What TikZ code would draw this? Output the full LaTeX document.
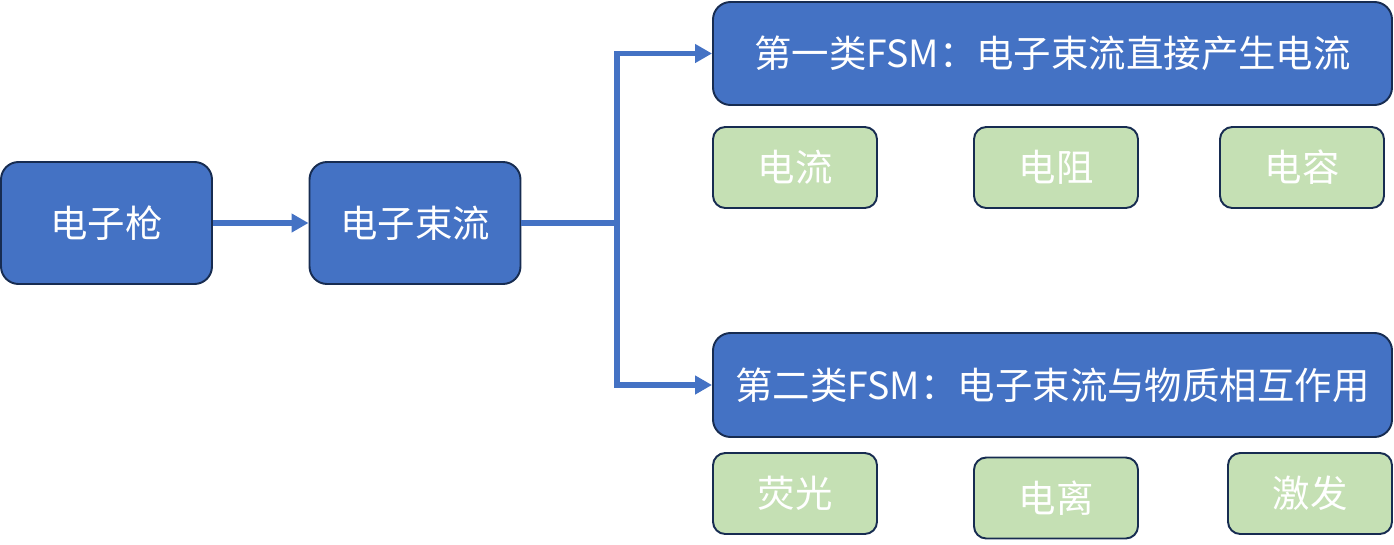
\documentclass[tikz,border=0pt]{standalone}
\usepackage{fontspec}
\usepackage{tikz}
\usetikzlibrary{arrows.meta,positioning,calc}
\setmainfont{Noto Sans CJK SC}
\definecolor{boxBlue}  {RGB}{68, 114, 196}
\definecolor{boxEdge}  {RGB}{23,  44,  81}
\definecolor{boxGreen} {RGB}{197, 224, 180}

\tikzset{
  bluebox/.style={draw=boxEdge,fill=boxBlue,line width=1.1pt,rounded corners=10pt,
                  text=white,font=\fontsize{21.3}{25}\selectfont,inner sep=0pt},
  greenbox/.style={draw=boxEdge,fill=boxGreen,line width=1.1pt,rounded corners=7pt,
                   text=white,font=\fontsize{21.3}{25}\selectfont,inner sep=0pt,
                   minimum width=3.28cm,minimum height=1.62cm},
  flow/.style={boxBlue,line width=3.2pt,-{Triangle[length=3.4mm,width=3.6mm]}},
  wire/.style={boxBlue,line width=3.2pt}
}

\begin{document}
\begin{tikzpicture}

    \useasboundingbox (0,0) rectangle (27.88,-10.88);

    % ════════ fonte e feixe ════════
    \node[bluebox,minimum width=4.22cm,minimum height=2.44cm] (gun) at (2.13,-4.46){电子枪};
    \node[bluebox,minimum width=4.22cm,minimum height=2.44cm] (beam) at (8.30,-4.46){电子束流};

    % ════════ primeira classe ════════
    \node[bluebox,minimum width=13.58cm,minimum height=2.06cm] (first) at (21.05,-1.07)
      {第一类FSM：电子束流直接产生电流};
    \node[greenbox] (cur) at (15.90,-3.35){电流};
    \node[greenbox] (res) at (21.12,-3.35){电阻};
    \node[greenbox] (cap) at (26.04,-3.35){电容};

    % ════════ segunda classe ════════
    \node[bluebox,minimum width=13.58cm,minimum height=2.08cm] (second) at (21.05,-7.70)
      {第二类FSM：电子束流与物质相互作用};
    \node[greenbox] (fluo) at (15.90,-9.87){荧光};
    \node[greenbox] (ion)  at (21.12,-9.96){电离};
    \node[greenbox] (exc)  at (26.20,-9.87){激发};

    % ligacoes
    \coordinate (split) at (12.34,-4.46);
    \draw[flow] (gun) -- (beam);
    \draw[wire] (beam) -- (split);
    \draw[flow] (split) |- (first);
    \draw[flow] (split) |- (second);

\end{tikzpicture}
\end{document}
